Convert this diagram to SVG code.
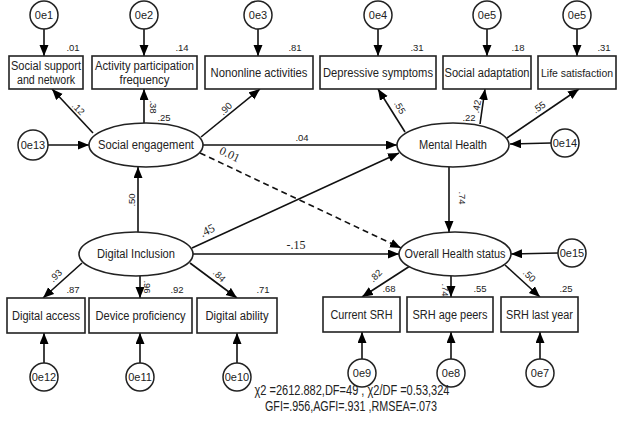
<svg xmlns="http://www.w3.org/2000/svg" width="620" height="423" viewBox="0 0 620 423">
<defs>
<marker id="ah" markerUnits="userSpaceOnUse" markerWidth="12" markerHeight="10" refX="11" refY="4.5" orient="auto">
<path d="M0,0 L11,4.5 L0,9 z" fill="#000"/>
</marker>
<style>
.box{fill:#fff;stroke:#222;stroke-width:1.6}
.ell{fill:#fff;stroke:#222;stroke-width:1.6}
.cir{fill:#fff;stroke:#222;stroke-width:1.5}
.t{font-family:"Liberation Sans",Arial,sans-serif;font-size:12px;fill:#222;text-anchor:middle}
.tc{font-family:"Liberation Sans",Arial,sans-serif;font-size:11px;fill:#222;text-anchor:middle}
.n{font-family:"Liberation Sans",Arial,sans-serif;font-size:9.5px;fill:#222;text-anchor:middle}
.s{font-family:"Liberation Serif","Times New Roman",serif;font-size:12px;fill:#222;text-anchor:middle}
.f{font-family:"Liberation Sans",Arial,sans-serif;font-size:14px;fill:#222;text-anchor:middle}
.c{stroke:#111;stroke-width:1.6;fill:none;marker-end:url(#ah)}
.d{stroke-dasharray:6,4}
</style>
</defs>
<rect width="620" height="423" fill="#fff"/>

<g id="connectors">
<line class="c" x1="44" y1="29" x2="44" y2="56"/>
<line class="c" x1="144" y1="29" x2="144" y2="56"/>
<line class="c" x1="258" y1="29" x2="258" y2="56"/>
<line class="c" x1="378" y1="29" x2="378" y2="56"/>
<line class="c" x1="487" y1="29" x2="487" y2="56"/>
<line class="c" x1="577" y1="29" x2="577" y2="56"/>
<line class="c" x1="48" y1="145" x2="89" y2="145"/>
<line class="c" x1="551" y1="143" x2="510" y2="144"/>
<line class="c" x1="558" y1="253" x2="511" y2="254"/>
<line class="c" x1="93" y1="133" x2="52" y2="89"/>
<line class="c" x1="144" y1="123" x2="144" y2="89"/>
<line class="c" x1="201" y1="137" x2="260" y2="89"/>
<line class="c" x1="203" y1="145" x2="397" y2="145"/>
<line class="c d" x1="200" y1="153" x2="401" y2="248"/>
<line class="c" x1="138" y1="232" x2="138" y2="167"/>
<line class="c" x1="192" y1="248" x2="399" y2="153"/>
<line class="c" x1="193" y1="254" x2="399" y2="254"/>
<line class="c" x1="405" y1="132" x2="378" y2="89"/>
<line class="c" x1="480" y1="124" x2="485" y2="89"/>
<line class="c" x1="507" y1="138" x2="579" y2="89"/>
<line class="c" x1="449" y1="167" x2="449" y2="232"/>
<line class="c" x1="82" y1="263" x2="43" y2="298"/>
<line class="c" x1="140" y1="276" x2="140" y2="298"/>
<line class="c" x1="190" y1="263" x2="237" y2="298"/>
<line class="c" x1="410" y1="266" x2="362" y2="297"/>
<line class="c" x1="451" y1="276" x2="451" y2="297"/>
<line class="c" x1="505" y1="265" x2="540" y2="297"/>
<line class="c" x1="44" y1="363" x2="44" y2="333"/>
<line class="c" x1="140" y1="363" x2="140" y2="333"/>
<line class="c" x1="237" y1="363" x2="237" y2="333"/>
<line class="c" x1="362" y1="359" x2="362" y2="332"/>
<line class="c" x1="451" y1="359" x2="451" y2="332"/>
<line class="c" x1="540" y1="359" x2="540" y2="332"/>
</g>

<g id="labels">
<text class="n" x="73" y="51">.01</text>
<text class="n" x="182" y="51">.14</text>
<text class="n" x="295" y="51">.81</text>
<text class="n" x="417" y="51">.31</text>
<text class="n" x="518" y="51">.18</text>
<text class="n" x="604" y="51">.31</text>
<text class="n" transform="translate(76,111) rotate(45)">.12</text>
<text class="n" transform="translate(150,107) rotate(90)">.38</text>
<text class="n" x="164" y="121">.25</text>
<text class="n" transform="translate(228,111) rotate(-45)">.90</text>
<text class="n" x="302" y="141">.04</text>
<text class="s" transform="translate(228,158) rotate(25)">0.01</text>
<text class="n" transform="translate(135,200) rotate(-90)">.50</text>
<text class="s" transform="translate(209,234) rotate(-25)">.45</text>
<text class="s" x="296" y="249">-.15</text>
<text class="n" transform="translate(397,109) rotate(60)">.55</text>
<text class="n" transform="translate(480,107) rotate(-80)">.42</text>
<text class="n" x="469" y="121">.22</text>
<text class="n" transform="translate(541,110) rotate(-35)">.55</text>
<text class="n" transform="translate(459,198) rotate(90)">.74</text>
<text class="n" transform="translate(58,278) rotate(-45)">.93</text>
<text class="n" x="73" y="293">.87</text>
<text class="n" transform="translate(144,287) rotate(90)">.96</text>
<text class="n" x="177" y="293">.92</text>
<text class="n" transform="translate(217,278) rotate(45)">.84</text>
<text class="n" x="263" y="293">.71</text>
<text class="n" transform="translate(378,278) rotate(-45)">.82</text>
<text class="n" x="389" y="292">.68</text>
<text class="n" transform="translate(442,290) rotate(90)">.74</text>
<text class="n" x="480" y="292">.55</text>
<text class="n" transform="translate(527,278) rotate(45)">.50</text>
<text class="n" x="566" y="292">.25</text>
</g>

<g id="e1"><circle class="cir" cx="44" cy="15" r="14"/><text class="tc" x="44" y="19">0e1</text></g>
<g id="e2"><circle class="cir" cx="144" cy="15" r="14"/><text class="tc" x="144" y="19">0e2</text></g>
<g id="e3"><circle class="cir" cx="258" cy="15" r="14"/><text class="tc" x="258" y="19">0e3</text></g>
<g id="e4"><circle class="cir" cx="378" cy="15" r="14"/><text class="tc" x="378" y="19">0e4</text></g>
<g id="e5a"><circle class="cir" cx="487" cy="15" r="14"/><text class="tc" x="487" y="19">0e5</text></g>
<g id="e5b"><circle class="cir" cx="577" cy="15" r="14"/><text class="tc" x="577" y="19">0e5</text></g>
<g id="e13"><circle class="cir" cx="33" cy="145" r="15"/><text class="tc" x="33" y="149">0e13</text></g>
<g id="e14"><circle class="cir" cx="565" cy="143" r="14"/><text class="tc" x="565" y="147">0e14</text></g>
<g id="e15"><circle class="cir" cx="572" cy="253" r="14"/><text class="tc" x="572" y="257">0e15</text></g>
<g id="e12"><circle class="cir" cx="44" cy="377" r="14"/><text class="tc" x="44" y="381">0e12</text></g>
<g id="e11"><circle class="cir" cx="140" cy="377" r="14"/><text class="tc" x="140" y="381">0e11</text></g>
<g id="e10"><circle class="cir" cx="237" cy="377" r="14"/><text class="tc" x="237" y="381">0e10</text></g>
<g id="e9"><circle class="cir" cx="362" cy="373" r="14"/><text class="tc" x="362" y="377">0e9</text></g>
<g id="e8"><circle class="cir" cx="451" cy="373" r="14"/><text class="tc" x="451" y="377">0e8</text></g>
<g id="e7"><circle class="cir" cx="540" cy="373" r="14"/><text class="tc" x="540" y="377">0e7</text></g>

<g id="ssn"><rect class="box" x="9" y="56" width="74" height="33"/><text class="t" x="46" y="70" textLength="70" lengthAdjust="spacingAndGlyphs">Social support</text><text class="t" x="46" y="84" textLength="58" lengthAdjust="spacingAndGlyphs">and network</text></g>
<g id="apf"><rect class="box" x="92" y="56" width="105" height="33"/><text class="t" x="144.5" y="70" textLength="99" lengthAdjust="spacingAndGlyphs">Activity participation</text><text class="t" x="144.5" y="84" textLength="50" lengthAdjust="spacingAndGlyphs">frequency</text></g>
<g id="noa"><rect class="box" x="205" y="56" width="108" height="33"/><text class="t" x="259" y="77" textLength="97" lengthAdjust="spacingAndGlyphs">Nononline activities</text></g>
<g id="dep"><rect class="box" x="320" y="56" width="116" height="33"/><text class="t" x="378" y="77" textLength="110" lengthAdjust="spacingAndGlyphs">Depressive symptoms</text></g>
<g id="sad"><rect class="box" x="443" y="56" width="88" height="33"/><text class="t" x="487" y="77" textLength="85" lengthAdjust="spacingAndGlyphs">Social adaptation</text></g>
<g id="lsa"><rect class="box" x="538" y="56" width="78" height="33"/><text class="t" x="577" y="77" font-size="11" textLength="72" lengthAdjust="spacingAndGlyphs" style="font-size:11.5px">Life satisfaction</text></g>

<g id="se"><ellipse class="ell" cx="146" cy="145" rx="57" ry="22"/><text class="t" x="146" y="149" textLength="96" lengthAdjust="spacingAndGlyphs">Social engagement</text></g>
<g id="mh"><ellipse class="ell" cx="453" cy="145" rx="56" ry="22"/><text class="t" x="453" y="149" textLength="68" lengthAdjust="spacingAndGlyphs">Mental Health</text></g>
<g id="di"><ellipse class="ell" cx="136" cy="254" rx="57" ry="22"/><text class="t" x="136" y="258" textLength="78" lengthAdjust="spacingAndGlyphs">Digital Inclusion</text></g>
<g id="oh"><ellipse class="ell" cx="455" cy="254" rx="56" ry="22"/><text class="t" x="455" y="258" textLength="101" lengthAdjust="spacingAndGlyphs">Overall Health status</text></g>

<g id="da"><rect class="box" x="7" y="298" width="78" height="35"/><text class="t" x="46" y="320" textLength="68" lengthAdjust="spacingAndGlyphs">Digital access</text></g>
<g id="dp"><rect class="box" x="89" y="298" width="103" height="35"/><text class="t" x="140.5" y="320" textLength="90" lengthAdjust="spacingAndGlyphs">Device proficiency</text></g>
<g id="dab"><rect class="box" x="197" y="298" width="80" height="35"/><text class="t" x="237" y="320" textLength="63" lengthAdjust="spacingAndGlyphs">Digital ability</text></g>
<g id="csrh"><rect class="box" x="323" y="297" width="77" height="35"/><text class="t" x="361.5" y="319" textLength="62" lengthAdjust="spacingAndGlyphs">Current SRH</text></g>
<g id="sap"><rect class="box" x="407" y="297" width="86" height="35"/><text class="t" x="450" y="319" textLength="75" lengthAdjust="spacingAndGlyphs">SRH age peers</text></g>
<g id="sly"><rect class="box" x="501" y="297" width="77" height="35"/><text class="t" x="539.5" y="319" textLength="67" lengthAdjust="spacingAndGlyphs">SRH last year</text></g>

<g id="fit">
<text class="f" x="352" y="395" textLength="195" lengthAdjust="spacingAndGlyphs">χ2 =2612.882,DF=49 , χ2/DF =0.53,324</text>
<text class="f" x="351" y="411" textLength="172" lengthAdjust="spacingAndGlyphs">GFI=.956,AGFI=.931 ,RMSEA=.073</text>
</g>
</svg>
